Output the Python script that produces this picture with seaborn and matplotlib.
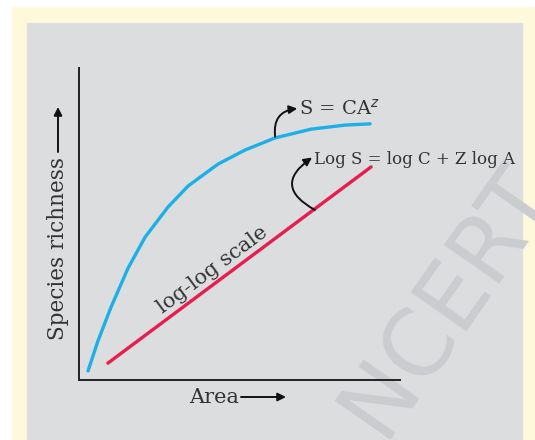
import numpy as np
import pandas as pd
import seaborn as sns
import matplotlib
matplotlib.use("Agg")
import matplotlib.pyplot as plt
from matplotlib.patches import Rectangle, FancyArrowPatch

# values (area and richness on a 0-100 scale, no units)
area_curve = [2.8, 5.9, 10.0, 15.3, 20.6, 27.7, 34.0, 43.3, 51.7, 61.1, 72.3, 82.9, 90.7]
rich_curve = [2.9, 12.5, 23.4, 35.9, 45.8, 55.4, 62.2, 69.2, 73.7, 77.6, 80.4, 81.7, 82.1]
area_loglog = [9.0, 91.0]
rich_loglog = [5.4, 68.3]

sns.set_style("white")
plt.rcParams['font.family'] = ['DejaVu Serif']

fig = plt.figure(figsize=(5.35, 4.40), dpi=100, facecolor="white")

# pale yellow page and grey panel behind the graph
fig.patches.append(Rectangle((12/535, 0), 1, (440-7)/440, transform=fig.transFigure,
                             color="#fff9dc", zorder=-3))
fig.patches.append(Rectangle((27/535, 0), (522-27)/535, (440-23)/440, transform=fig.transFigure,
                             color="#dcdddf", zorder=-2))

# faint watermark
fig.text(448/535, (440-300)/440, "NCERT", rotation=55, fontsize=66, color="#cbcccf",
         family="DejaVu Sans", ha="center", va="center", zorder=-1)

ax = fig.add_axes([79/535, (440-380)/440, (400-79)/535, (380-68)/440])
ax.patch.set_alpha(0)

df1 = pd.DataFrame({"area": area_curve, "richness": rich_curve})
df2 = pd.DataFrame({"area": area_loglog, "richness": rich_loglog})
sns.lineplot(data=df1, x="area", y="richness", color="#1db0e6", lw=2.4, ax=ax, sort=False,
             solid_joinstyle="round")
sns.lineplot(data=df2, x="area", y="richness", color="#e91c4e", lw=2.4, ax=ax, sort=False)

ax.set_xlim(0, 100)
ax.set_ylim(0, 100)
ax.set_xticks([])
ax.set_yticks([])
ax.set_xlabel("")
ax.set_ylabel("")
for s in ["top", "right"]:
    ax.spines[s].set_visible(False)
for s in ["left", "bottom"]:
    ax.spines[s].set_color("#222222")
    ax.spines[s].set_linewidth(1.4)

txt = "#333333"
arrow = dict(arrowstyle="-|>", color="#111111", lw=1.4, shrinkA=0, shrinkB=0, mutation_scale=12)

ax.text(68.4, 86.8, "S = CA$^{z}$", fontsize=14, color=txt, va="center", ha="left")
ax.annotate("", xy=(68.0, 87.0), xytext=(61.1, 78.0),
            arrowprops=dict(arrow, connectionstyle="arc3,rad=-0.5"))

ax.text(73.3, 70.8, "Log S = log C + Z log A", fontsize=12, color=txt, va="center", ha="left")
ax.annotate("", xy=(72.6, 71.3), xytext=(73.5, 54.5),
            arrowprops=dict(arrow, connectionstyle="arc3,rad=-0.8"))

ax.text(41.7, 35.3, "log-log scale", rotation=36.7, rotation_mode="anchor", fontsize=15,
        color=txt, ha="center", va="center")

# axis titles with arrows
fig.text(58/535, (440-249)/440, "Species richness", rotation=90, fontsize=15.5, color=txt,
         ha="center", va="center")
fig.add_artist(FancyArrowPatch((58/535, (440-152)/440), (58/535, (440-107)/440),
               transform=fig.transFigure, **arrow))
fig.text(214/535, (440-397)/440, "Area", fontsize=15, color=txt, ha="center", va="center")
fig.add_artist(FancyArrowPatch((241/535, (440-397)/440), (286/535, (440-397)/440),
               transform=fig.transFigure, **arrow))

fig.savefig("out.png", dpi=100)
